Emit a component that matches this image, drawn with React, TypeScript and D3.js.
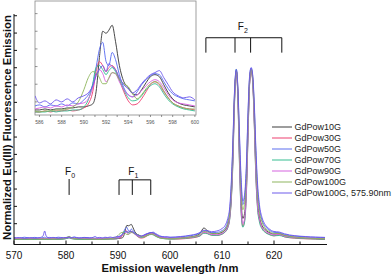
import React from "react";
import * as d3 from "d3";

// ---------- data ----------
const wavelengths = [
  570, 571, 572, 573, 574, 575, 575.6, 575.9, 576.2, 576.8, 577.5, 578.5, 579.5, 580.2, 580.6, 581.0, 581.6, 582.5, 583.5, 584.5, 585.2,
  585.6, 586, 586.5, 587, 587.5, 588, 588.5, 589, 589.5, 590, 590.4, 590.8, 591.1, 591.4, 591.7, 592, 592.25, 592.55, 592.85, 593.2, 593.6, 594, 594.4, 594.8, 595.2, 595.6, 596, 596.4, 596.8, 597.2, 597.6, 598, 598.5, 599, 599.5, 600,
  601, 602, 603, 604, 605, 605.8, 606.5, 607.2, 608, 609, 610, 610.6, 611.1, 611.5, 611.8, 612.1, 612.4, 612.75, 613.05, 613.35, 613.65, 614, 614.35, 614.7, 615, 615.3, 615.6, 615.9, 616.2, 616.5, 616.8, 617.2, 617.7, 618.3, 619, 620, 621, 622, 623, 624, 625, 626, 627, 628, 629, 629.8,
];

const gdPow10G = [
  0.012, 0.013, 0.011, 0.012, 0.013, 0.012, 0.013, 0.012, 0.013, 0.012, 0.013, 0.012, 0.014, 0.018, 0.022, 0.017, 0.014, 0.013, 0.012, 0.012, 0.012,
  0.012, 0.012, 0.013, 0.012, 0.013, 0.013, 0.014, 0.014, 0.015, 0.015, 0.016, 0.018, 0.030, 0.064, 0.090, 0.088, 0.091, 0.096, 0.080, 0.056, 0.040, 0.034, 0.028, 0.027, 0.032, 0.039, 0.045, 0.047, 0.045, 0.037, 0.029, 0.023, 0.019, 0.017, 0.016, 0.015,
  0.016, 0.018, 0.020, 0.024, 0.030, 0.045, 0.075, 0.060, 0.045, 0.042, 0.050, 0.063, 0.090, 0.15, 0.27, 0.50, 0.82, 0.98, 0.85, 0.52, 0.25, 0.13, 0.16, 0.33, 0.64, 0.91, 0.99, 0.93, 0.72, 0.43, 0.24, 0.14, 0.09, 0.065, 0.05, 0.04, 0.042, 0.032, 0.026, 0.022, 0.019, 0.017, 0.016, 0.014, 0.013, 0.013,
];

const gdPow30G = [
  0.010, 0.011, 0.010, 0.011, 0.010, 0.011, 0.010, 0.011, 0.010, 0.011, 0.010, 0.011, 0.012, 0.016, 0.019, 0.015, 0.012, 0.011, 0.010, 0.010, 0.011,
  0.010, 0.010, 0.011, 0.010, 0.011, 0.011, 0.012, 0.011, 0.012, 0.014, 0.018, 0.030, 0.050, 0.060, 0.056, 0.050, 0.054, 0.056, 0.052, 0.042, 0.030, 0.021, 0.017, 0.018, 0.023, 0.030, 0.037, 0.040, 0.037, 0.030, 0.024, 0.019, 0.016, 0.014, 0.013, 0.012,
  0.011, 0.012, 0.014, 0.017, 0.022, 0.030, 0.048, 0.044, 0.034, 0.032, 0.040, 0.052, 0.078, 0.135, 0.25, 0.47, 0.80, 0.98, 0.83, 0.47, 0.19, 0.085, 0.12, 0.29, 0.61, 0.90, 0.98, 0.92, 0.69, 0.39, 0.21, 0.12, 0.075, 0.052, 0.040, 0.030, 0.036, 0.024, 0.019, 0.016, 0.014, 0.013, 0.012, 0.011, 0.010, 0.010,
];

const gdPow50G = [
  0.020, 0.017, 0.022, 0.018, 0.021, 0.017, 0.020, 0.022, 0.018, 0.021, 0.017, 0.022, 0.019, 0.021, 0.024, 0.020, 0.023, 0.018, 0.021, 0.019, 0.017,
  0.016, 0.017, 0.015, 0.017, 0.016, 0.018, 0.016, 0.019, 0.018, 0.022, 0.027, 0.037, 0.054, 0.072, 0.079, 0.060, 0.056, 0.069, 0.062, 0.047, 0.034, 0.027, 0.025, 0.030, 0.037, 0.042, 0.046, 0.048, 0.047, 0.040, 0.033, 0.028, 0.025, 0.023, 0.022, 0.021,
  0.022, 0.024, 0.027, 0.031, 0.037, 0.046, 0.058, 0.055, 0.048, 0.050, 0.060, 0.075, 0.11, 0.18, 0.32, 0.56, 0.85, 0.99, 0.88, 0.60, 0.35, 0.21, 0.25, 0.42, 0.72, 0.94, 1.00, 0.95, 0.78, 0.52, 0.32, 0.19, 0.12, 0.085, 0.065, 0.050, 0.048, 0.038, 0.032, 0.028, 0.026, 0.024, 0.022, 0.021, 0.020, 0.020,
];

const gdPow70G = [
  0.009, 0.010, 0.009, 0.010, 0.009, 0.010, 0.009, 0.010, 0.009, 0.010, 0.010, 0.010, 0.011, 0.015, 0.018, 0.014, 0.011, 0.010, 0.009, 0.010, 0.010,
  0.010, 0.010, 0.010, 0.011, 0.010, 0.011, 0.011, 0.012, 0.012, 0.015, 0.022, 0.038, 0.054, 0.056, 0.052, 0.047, 0.051, 0.054, 0.050, 0.042, 0.032, 0.024, 0.021, 0.022, 0.026, 0.032, 0.036, 0.038, 0.035, 0.028, 0.022, 0.018, 0.015, 0.013, 0.012, 0.011,
  0.012, 0.014, 0.016, 0.019, 0.024, 0.030, 0.045, 0.042, 0.033, 0.032, 0.040, 0.052, 0.075, 0.13, 0.24, 0.45, 0.78, 0.99, 0.82, 0.45, 0.18, 0.08, 0.11, 0.28, 0.60, 0.90, 0.99, 0.92, 0.68, 0.38, 0.20, 0.11, 0.07, 0.05, 0.038, 0.030, 0.032, 0.025, 0.020, 0.018, 0.016, 0.014, 0.013, 0.012, 0.011, 0.011,
];

const gdPow90G = [
  0.014, 0.015, 0.013, 0.016, 0.014, 0.015, 0.013, 0.015, 0.014, 0.016, 0.013, 0.015, 0.016, 0.019, 0.022, 0.018, 0.015, 0.016, 0.014, 0.015, 0.014,
  0.013, 0.014, 0.015, 0.014, 0.016, 0.015, 0.017, 0.016, 0.018, 0.019, 0.023, 0.034, 0.046, 0.052, 0.048, 0.040, 0.043, 0.049, 0.048, 0.040, 0.032, 0.027, 0.025, 0.027, 0.031, 0.036, 0.040, 0.042, 0.040, 0.034, 0.027, 0.022, 0.019, 0.018, 0.017, 0.016,
  0.016, 0.017, 0.019, 0.022, 0.027, 0.035, 0.050, 0.047, 0.038, 0.036, 0.044, 0.056, 0.082, 0.14, 0.26, 0.48, 0.80, 0.98, 0.84, 0.49, 0.21, 0.10, 0.13, 0.30, 0.62, 0.91, 0.99, 0.93, 0.70, 0.41, 0.22, 0.13, 0.08, 0.058, 0.045, 0.036, 0.038, 0.029, 0.024, 0.021, 0.019, 0.018, 0.017, 0.016, 0.015, 0.015,
];

const gdPow100G = [
  0.011, 0.011, 0.012, 0.011, 0.012, 0.011, 0.012, 0.011, 0.012, 0.011, 0.012, 0.012, 0.015, 0.022, 0.027, 0.020, 0.014, 0.012, 0.012, 0.011, 0.012,
  0.011, 0.010, 0.011, 0.011, 0.012, 0.012, 0.013, 0.015, 0.020, 0.032, 0.044, 0.050, 0.049, 0.044, 0.038, 0.038, 0.044, 0.049, 0.048, 0.042, 0.038, 0.035, 0.028, 0.023, 0.027, 0.033, 0.038, 0.040, 0.038, 0.031, 0.024, 0.019, 0.016, 0.014, 0.013, 0.013,
  0.014, 0.016, 0.019, 0.023, 0.029, 0.038, 0.055, 0.052, 0.043, 0.043, 0.054, 0.068, 0.10, 0.165, 0.30, 0.54, 0.84, 0.98, 0.87, 0.57, 0.31, 0.18, 0.22, 0.39, 0.69, 0.93, 0.99, 0.94, 0.76, 0.49, 0.29, 0.17, 0.11, 0.075, 0.057, 0.044, 0.043, 0.033, 0.027, 0.023, 0.020, 0.018, 0.016, 0.015, 0.014, 0.014,
];

const gdPow100G575 = [
  0.017, 0.020, 0.016, 0.019, 0.017, 0.020, 0.030, 0.058, 0.028, 0.018, 0.021, 0.017, 0.019, 0.020, 0.023, 0.019, 0.022, 0.017, 0.020, 0.018, 0.021,
  0.026, 0.019, 0.021, 0.018, 0.022, 0.020, 0.023, 0.020, 0.024, 0.026, 0.029, 0.036, 0.046, 0.052, 0.056, 0.050, 0.058, 0.055, 0.052, 0.044, 0.037, 0.033, 0.029, 0.032, 0.038, 0.043, 0.047, 0.049, 0.051, 0.044, 0.037, 0.030, 0.026, 0.024, 0.025, 0.022,
  0.023, 0.026, 0.029, 0.034, 0.040, 0.050, 0.062, 0.060, 0.054, 0.058, 0.072, 0.090, 0.13, 0.20, 0.35, 0.58, 0.86, 0.99, 0.89, 0.63, 0.38, 0.23, 0.27, 0.45, 0.74, 0.95, 1.00, 0.96, 0.80, 0.55, 0.35, 0.21, 0.135, 0.095, 0.072, 0.055, 0.052, 0.042, 0.035, 0.031, 0.028, 0.026, 0.024, 0.023, 0.022, 0.021,
];

const seriesNames = ["GdPow10G", "GdPow30G", "GdPow50G", "GdPow70G", "GdPow90G", "GdPow100G", "GdPow100G, 575.90nm"];
const seriesValues = [gdPow10G, gdPow30G, gdPow50G, gdPow70G, gdPow90G, gdPow100G, gdPow100G575];
const seriesColors = ["#333333", "#ee3a6c", "#5568f0", "#2fbd8e", "#d65ee0", "#8db45a", "#6a55ec"];

const xMajorTicks = [570, 580, 590, 600, 610, 620];
const xMinorTicks = [575, 585, 595, 605, 615, 625];
const yTicks = [0.1, 0.2, 0.3, 0.4, 0.5, 0.6, 0.7, 0.8, 0.9, 1.0, 1.1, 1.2, 1.3];
const insetXLabels = [586, 588, 590, 592, 594, 596, 598, 600];
const insetXTicks = [586, 587, 588, 589, 590, 591, 592, 593, 594, 595, 596, 597, 598, 599, 600];
const insetYTicks = [0.02, 0.0375, 0.055, 0.0725, 0.09, 0.1075];

// transition markers (wavelengths) and their levels (intensity units)
const f0Marks = [580.6];
const f1Marks = [590.2, 592.75, 596.3];
const f2Marks = [606.9, 612.5, 615.5, 621.5];
const lowBracket = { top: 0.353, bottom: 0.266, label: 0.38 };
const highBracket = { top: 1.173, bottom: 1.087, label: 1.22 };

type P = [number, number];

export default function App() {
  const W = 392, H = 276;
  const font = "'Liberation Sans', Arial, Helvetica, sans-serif";
  const x = d3.scaleLinear().domain([570, 630]).range([14, 326]);
  const y = d3.scaleLinear().domain([-0.02, 1.31]).range([244.5, 14]);
  const xi = d3.scaleLinear().domain([585.6, 600.1]).range([35, 196]);
  const yi = d3.scaleLinear().domain([0.007, 0.12]).range([115, 1]);

  const series: P[][] = seriesValues.map((vals) =>
    wavelengths.map((w, i) => [w, vals[i]] as P).filter((d) => d[1] !== undefined)
  );
  const line = d3.line<P>().x((d) => x(d[0])).y((d) => y(d[1])).curve(d3.curveMonotoneX);
  const lineI = d3.line<P>().x((d) => xi(d[0])).y((d) => yi(d[1])).curve(d3.curveMonotoneX);

  const [x0, x1] = x.range();
  const [yb, yt] = y.range();
  const [ix0, ix1] = xi.range();
  const [iyb, iyt] = yi.range();

  const bracket = (marks: number[], lv: { top: number; bottom: number }) => {
    const first = marks[0], last = marks[marks.length - 1];
    return (
      <g stroke="#111" strokeWidth={1} fill="none">
        {marks.length > 1 && <line x1={x(first)} x2={x(last)} y1={y(lv.top)} y2={y(lv.top)} />}
        {marks.map((m, i) => (
          <line key={i} x1={x(m)} x2={x(m)} y1={y(lv.top)} y2={y(lv.bottom)} />
        ))}
      </g>
    );
  };

  const label = (cx: number, vy: number, sub: string) => (
    <text x={cx} y={y(vy)} fontFamily={font} fontSize={10} fill="#111" textAnchor="middle">
      F<tspan fontSize={7} dy={3}>{sub}</tspan>
    </text>
  );

  return (
    <svg width={W} height={H} style={{ position: "absolute", left: 0, top: 0, background: "#fff" }}>
      <defs>
        <clipPath id="insetClip">
          <rect x={ix0} y={iyt} width={ix1 - ix0} height={iyb - iyt} />
        </clipPath>
      </defs>

      {/* main curves */}
      <g fill="none" strokeWidth={0.9}>
        {series.map((s, i) => (
          <path key={i} d={line(s) || ""} stroke={seriesColors[i]} />
        ))}
      </g>

      {/* main axes */}
      <g stroke="#111" strokeWidth={1}>
        <line x1={x0} x2={x0} y1={yb} y2={yt} />
        <line x1={x0} x2={x1 + 1} y1={yb} y2={yb} />
        {xMajorTicks.map((t) => (
          <line key={"M" + t} x1={x(t)} x2={x(t)} y1={yb} y2={yb - 4} />
        ))}
        {xMinorTicks.map((t) => (
          <line key={"m" + t} x1={x(t)} x2={x(t)} y1={yb} y2={yb - 3} />
        ))}
        {yTicks.map((t) => (
          <line key={"y" + t} x1={x0} x2={x0 + 3} y1={y(t)} y2={y(t)} />
        ))}
      </g>
      <g fontFamily={font} fontSize={10} fill="#111" textAnchor="middle">
        {xMajorTicks.map((t) => (
          <text key={t} x={x(t)} y={259}>{t}</text>
        ))}
      </g>
      <text x={170} y={271.5} fontFamily={font} fontSize={11.2} fontWeight="bold" textAnchor="middle" fill="#111">
        Emission wavelength /nm
      </text>
      <text
        transform={`translate(11,127.5) rotate(-90)`}
        fontFamily={font}
        fontSize={11.3}
        fontWeight="bold"
        textAnchor="middle"
        fill="#111"
      >
        Normalized Eu(III) Fluorescence Emission
      </text>

      {/* transition annotations */}
      {bracket(f0Marks, { top: lowBracket.top + 0.005, bottom: lowBracket.bottom })}
      {bracket(f1Marks, lowBracket)}
      {bracket(f2Marks, highBracket)}
      {label(x(f0Marks[0]) + 1, lowBracket.label, "0")}
      {label(x(f1Marks[1]) + 1, lowBracket.label, "1")}
      {label((x(f2Marks[1]) + x(f2Marks[2])) / 2, highBracket.label, "2")}

      {/* legend */}
      <g fontFamily={font} fontSize={9} fill="#222">
        {seriesNames.map((n, i) => {
          const ly = 127 + i * 11;
          return (
            <g key={n}>
              <line x1={272} x2={292} y1={ly} y2={ly} stroke={seriesColors[i]} strokeWidth={1.2} opacity={0.8} />
              <text x={294.5} y={ly} dominantBaseline="central">{n}</text>
            </g>
          );
        })}
      </g>

      {/* inset */}
      <rect x={ix0} y={iyt} width={ix1 - ix0} height={iyb - iyt} fill="#fff" stroke="#888" strokeWidth={0.8} />
      <g fill="none" strokeWidth={0.9} clipPath="url(#insetClip)">
        {series.map((s, i) => (
          <path
            key={i}
            d={lineI(s.filter((d) => d[0] >= 585.6 && d[0] <= 600.1)) || ""}
            stroke={seriesColors[i]}
          />
        ))}
      </g>
      <g stroke="#666" strokeWidth={0.7}>
        {insetXTicks.map((t) => (
          <line key={t} x1={xi(t)} x2={xi(t)} y1={iyb} y2={iyb + 2} />
        ))}
        {insetYTicks.map((t) => (
          <line key={t} x1={ix0} x2={ix0 + 2.5} y1={yi(t)} y2={yi(t)} />
        ))}
      </g>
      <g fontFamily={font} fontSize={5} fill="#555" textAnchor="middle">
        {insetXLabels.map((t) => (
          <text key={t} x={xi(t)} y={124}>{t}</text>
        ))}
      </g>
    </svg>
  );
}
